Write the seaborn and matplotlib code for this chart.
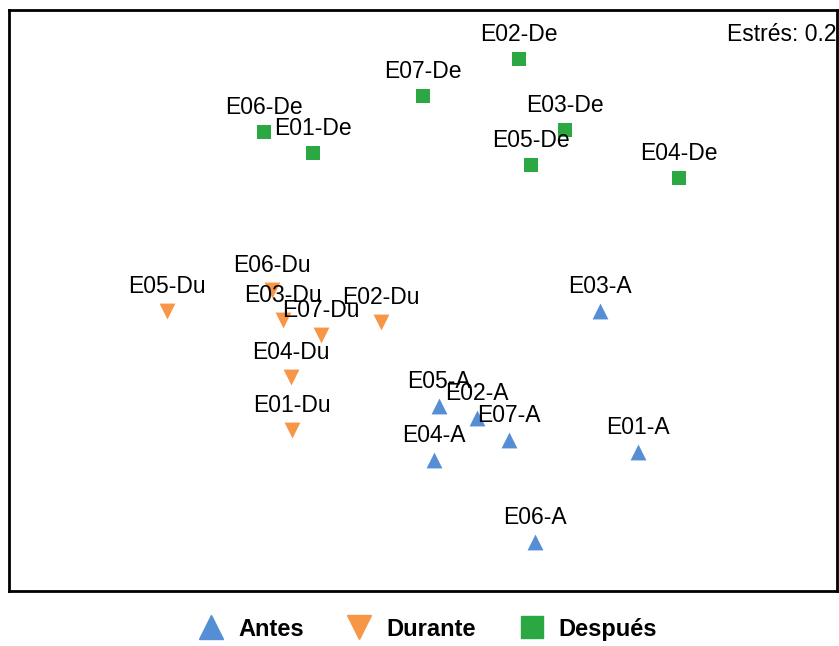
import matplotlib
matplotlib.use("Agg")
import matplotlib.pyplot as plt
from matplotlib.lines import Line2D
import seaborn as sns
import pandas as pd

# NMDS ordination scores per sample
antes_labels = ["E01-A", "E02-A", "E03-A", "E04-A", "E05-A", "E06-A", "E07-A"]
antes_x = [1.09, 0.285, 0.90, 0.07, 0.095, 0.575, 0.445]
antes_y = [-0.51, -0.34, 0.195, -0.55, -0.28, -0.96, -0.45]

durante_labels = ["E01-Du", "E02-Du", "E03-Du", "E04-Du", "E05-Du", "E06-Du", "E07-Du"]
durante_x = [-0.64, -0.195, -0.685, -0.645, -1.265, -0.74, -0.495]
durante_y = [-0.40, 0.14, 0.15, -0.135, 0.195, 0.30, 0.075]

despues_labels = ["E01-De", "E02-De", "E03-De", "E04-De", "E05-De", "E06-De", "E07-De"]
despues_x = [-0.535, 0.495, 0.725, 1.295, 0.555, -0.78, 0.015]
despues_y = [0.985, 1.455, 1.10, 0.86, 0.925, 1.09, 1.27]

groups = ["Antes", "Durante", "Después"]
stress_text = "Estrés: 0.2"

df = pd.concat([
    pd.DataFrame({"label": antes_labels, "NMDS1": antes_x, "NMDS2": antes_y, "grupo": "Antes"}),
    pd.DataFrame({"label": durante_labels, "NMDS1": durante_x, "NMDS2": durante_y, "grupo": "Durante"}),
    pd.DataFrame({"label": despues_labels, "NMDS1": despues_x, "NMDS2": despues_y, "grupo": "Después"}),
], ignore_index=True)

palette = {"Antes": "#558ed5", "Durante": "#f79646", "Después": "#2ca843"}
markers = {"Antes": "^", "Durante": "v", "Después": "s"}
sizes = {"Antes": 130, "Durante": 130, "Después": 100}
legend_sizes = {"Antes": 17, "Durante": 17, "Después": 15.5}

sns.set_theme(style="white")
plt.rcParams["font.family"] = ["Liberation Sans", "DejaVu Sans"]
plt.rcParams["text.color"] = "black"

fig = plt.figure(figsize=(8.39, 6.46), dpi=100)
ax = fig.add_axes([9 / 839, 55 / 646, 828 / 839, 581 / 646])

for g in groups:
    sub = df[df["grupo"] == g]
    sns.scatterplot(data=sub, x="NMDS1", y="NMDS2", color=palette[g], marker=markers[g],
                    s=sizes[g], linewidth=0, ax=ax, legend=False, zorder=3)

for _, r in df.iterrows():
    ax.annotate(r["label"], (r["NMDS1"], r["NMDS2"]), xytext=(0, 17.5),
                textcoords="offset points", ha="center", va="center",
                fontsize=16.5, color="black", zorder=4)

ax.text(0.999, 0.957, stress_text, transform=ax.transAxes, ha="right", va="center",
        fontsize=16.5, color="black")

ax.set_xlim(-2.055, 2.085)
ax.set_ylim(-1.205, 1.70)
ax.set_xticks([])
ax.set_yticks([])
ax.set_xlabel("")
ax.set_ylabel("")
for sp in ax.spines.values():
    sp.set_visible(True)
    sp.set_color("black")
    sp.set_linewidth(2.0)

handles = [Line2D([], [], linestyle="none", marker=markers[g], color=palette[g],
                  markersize=legend_sizes[g]) for g in groups]
leg = fig.legend(handles, groups, loc="center", bbox_to_anchor=(0.509, 0.026), ncol=3,
                 frameon=False, prop={"weight": "bold", "size": 17},
                 columnspacing=1.75, handletextpad=0.55, handlelength=1.2)
for t in leg.get_texts():
    t.set_color("black")

fig.savefig("out.png", dpi=100, facecolor="white")
